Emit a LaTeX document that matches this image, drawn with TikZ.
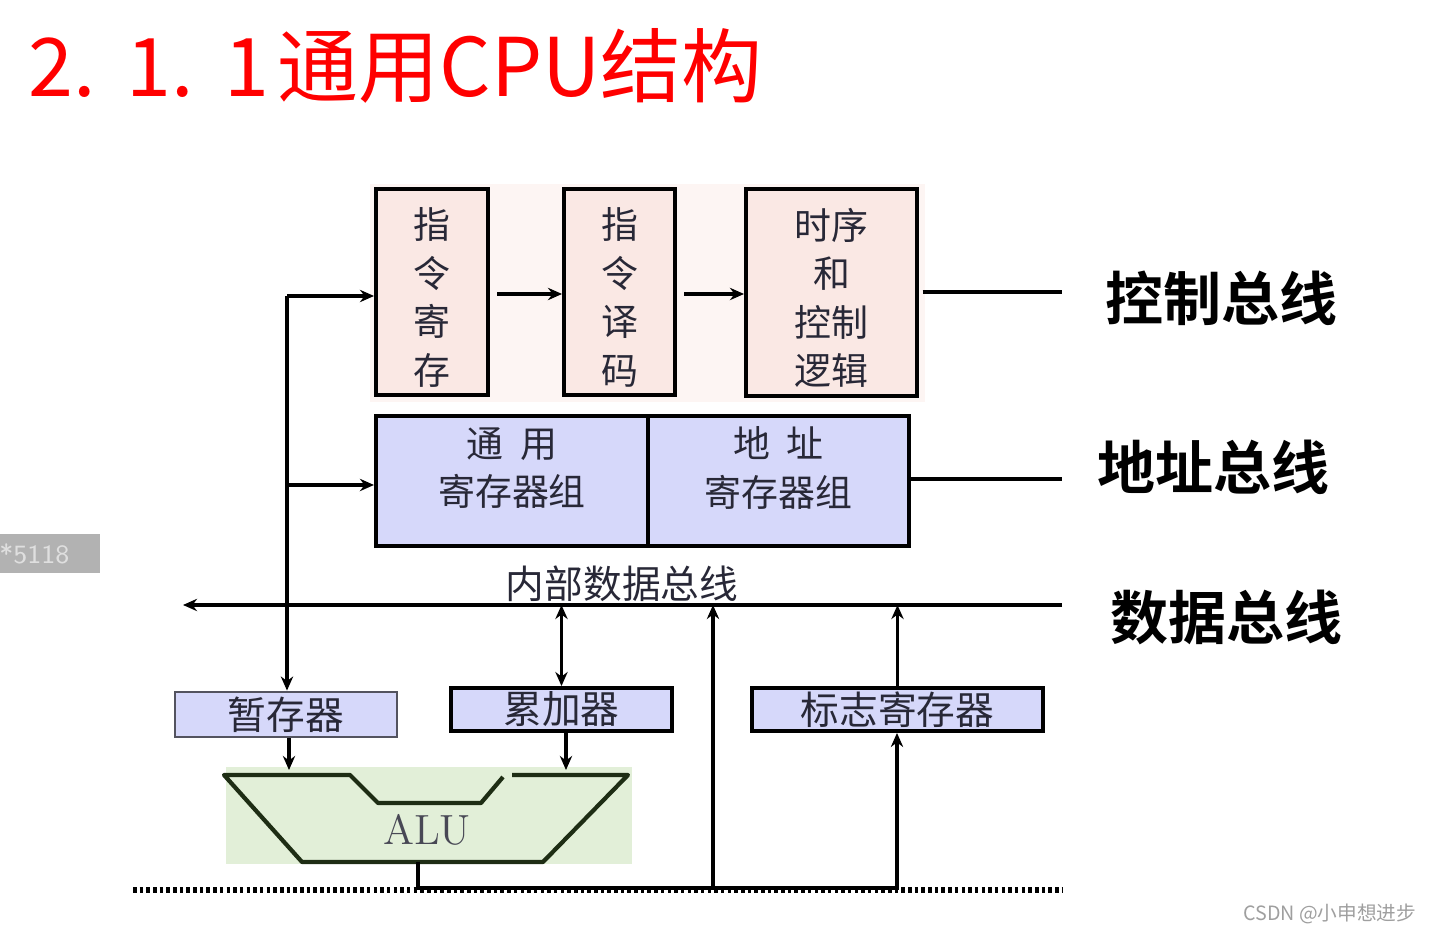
\documentclass[tikz,border=0pt]{standalone}
\usepackage{fontspec}
\newfontfamily\cjk{Noto Sans CJK SC}
\newfontfamily\cjkbold{Noto Sans CJK SC Bold}
\usepackage{xcolor}
\usetikzlibrary{positioning, calc, arrows.meta}

\definecolor{pinkfill}{RGB}{250,232,228}
\definecolor{pinkback}{RGB}{253,245,243}
\definecolor{bluefill}{RGB}{214,216,250}
\definecolor{greenfill}{RGB}{226,239,216}
\definecolor{inktext}{RGB}{40,40,55}
\definecolor{aluline}{RGB}{30,45,20}

% vertical stack of characters, inked a little lower than its box
\newcommand{\colstack}[1]{\raisebox{-2.8pt}[\height][\depth]{\begin{tabular}{@{}c@{}}#1\end{tabular}}}

\tikzset{
  unitbox/.style={draw, line width=1.1pt, inner sep=0pt, align=center, text=inktext,
    font=\cjk\fontsize{10.5}{13.8}\selectfont},
  pinkbox/.style={unitbox, fill=pinkfill},
  bluebox/.style={unitbox, fill=bluefill},
  smallreg/.style={unitbox, fill=bluefill, font=\cjk\fontsize{11}{13}\selectfont},
  busname/.style={font=\cjkbold\fontsize{16.5}{18}\selectfont, anchor=west, inner sep=0pt},
  wire/.style={line width=0.9pt},
}

\begin{document}
\begin{tikzpicture}[x=0.01cm, y=-0.01cm, >={Stealth[length=4pt,width=3.5pt]}]

    \useasboundingbox (0,0) rectangle (1432,934);

    % --- Title ---
    \node[anchor=base west, inner sep=0pt, text=red, font=\cjk\fontsize{23}{26}\selectfont]
        (title) at (28,97) {2.\kern0.38em 1.\kern0.38em 1\kern0.1em 通用CPU结构};

    % --- Watermarks ---
    \fill[gray!60] (0,534) rectangle (100,573);
    \node[anchor=east, inner sep=0pt, text=gray!25, font=\sffamily\fontsize{7.5}{8}\selectfont]
        (wmark) at (70,554) {*5118};
    \node[anchor=east, inner sep=0pt, text=gray!75, font=\cjk\fontsize{5.6}{6}\selectfont]
        (csdn) at (1417,914) {CSDN @小申想进步};

    % --- Control unit (top row) ---
    \fill[pinkback] (370,184) rectangle (925,402);
    \node[pinkbox, minimum width=1.12cm, minimum height=2.06cm] (ir) at (432,292) {\colstack{指\\令\\寄\\存}};
    \node[pinkbox, minimum width=1.11cm, minimum height=2.06cm] (id) at (619.5,292) {\colstack{指\\令\\译\\码}};
    \node[pinkbox, minimum width=1.71cm, minimum height=2.07cm] (tc) at (831.5,292.5) {\colstack{时序\\和\\控制\\逻辑}};

    % --- Register groups ---
    \node[bluebox, minimum width=2.72cm, minimum height=1.30cm] (gpr) at (512,481) {通\ \ 用\\寄存器组\\[-5.5pt]~};
    \node[bluebox, minimum width=2.61cm, minimum height=1.30cm] (areg) at (778.5,481) {地\ \ 址\\寄存器组\\[-5.5pt]~};

    % --- Registers near the ALU ---
    \node[smallreg, draw=inktext!80, line width=0.8pt, minimum width=2.22cm, minimum height=0.45cm] (tmp) at (286,714.5) {暂存器};
    \node[smallreg, minimum width=2.21cm, minimum height=0.43cm] (acc) at (561.5,709.5) {累加器};
    \node[smallreg, minimum width=2.91cm, minimum height=0.43cm] (flag) at (897.5,709.5) {标志寄存器};

    % --- ALU ---
    \fill[greenfill] (226,767) rectangle (632,864);
    \draw[line width=1.2pt, aluline, line join=round]
        (512,775) -- (628,775) -- (543,862) -- (302,862) -- (224,775)
        -- (350,775) -- (378,803) -- (481,803) -- (503,777);
    \node[text=inktext!85, font=\fontsize{12}{14}\selectfont, inner sep=0pt] (alu) at (427,830) {ALU};
    \coordinate (aluinA) at (289,770);
    \coordinate (aluinB) at (566,770);
    \coordinate (aluout) at (418,862);

    % --- Bus ends ---
    \coordinate (cbus) at (1062,292);
    \coordinate (abus) at (1062,479);
    \coordinate (busR) at (1062,605);
    \coordinate (busL) at (183,605);
    \coordinate (lj1) at (287,296);
    \coordinate (lj2) at (287,485);
    \coordinate (bot) at (418,888);
    \coordinate (botR) at (897,888);
    \coordinate (mid) at (713,888);

    % --- Bus labels ---
    \node[busname] (cname) at (1105,298) {控制总线};
    \node[busname] (aname) at (1097,467) {地址总线};
    \node[busname] (dname) at (1110,617) {数据总线};
    \node[font=\cjk\fontsize{11}{13}\selectfont, text=inktext, anchor=south, inner sep=1pt]
        (iname) at (622,606) {内部数据总线};

    % --- Connectors ---
    \draw[wire, ->] ([xshift=2pt]ir.east |- 0,294) -- (id.west |- 0,294);
    \draw[wire, ->] ([xshift=2pt]id.east |- 0,294) -- (tc.west |- 0,294);
    \draw[wire] ([xshift=1pt]tc.east |- cbus) -- (cbus);
    \draw[wire] (areg.east |- abus) -- (abus);
    \draw[wire, ->] (lj1) -- (lj1 -| ir.west);
    \draw[wire, ->] (lj2) -- (lj2 -| gpr.west);
    \draw[wire, ->] (lj1) -- (lj1 |- tmp.north);
    \draw[wire, line width=1.2pt, ->] (busR) -- (busL);
    \draw[wire, <->] (busL -| acc.north) -- (acc.north);
    \draw[wire, ->] (flag.north) -- (busL -| flag.north);
    \draw[wire, ->] (mid) -- (busL -| mid);
    \draw[wire, ->] (tmp.south -| aluinA) -- (aluinA);
    \draw[wire, ->] (acc.south -| aluinB) -- (aluinB);
    \draw[wire, ->] (aluout) -- (bot) -- (botR) -- (flag.south -| botR);

    % --- Dotted system bus ---
    \draw[line width=1.6pt, dash pattern=on 1pt off 0.9pt] (133,890) -- (1062,890);

\end{tikzpicture}
\end{document}
